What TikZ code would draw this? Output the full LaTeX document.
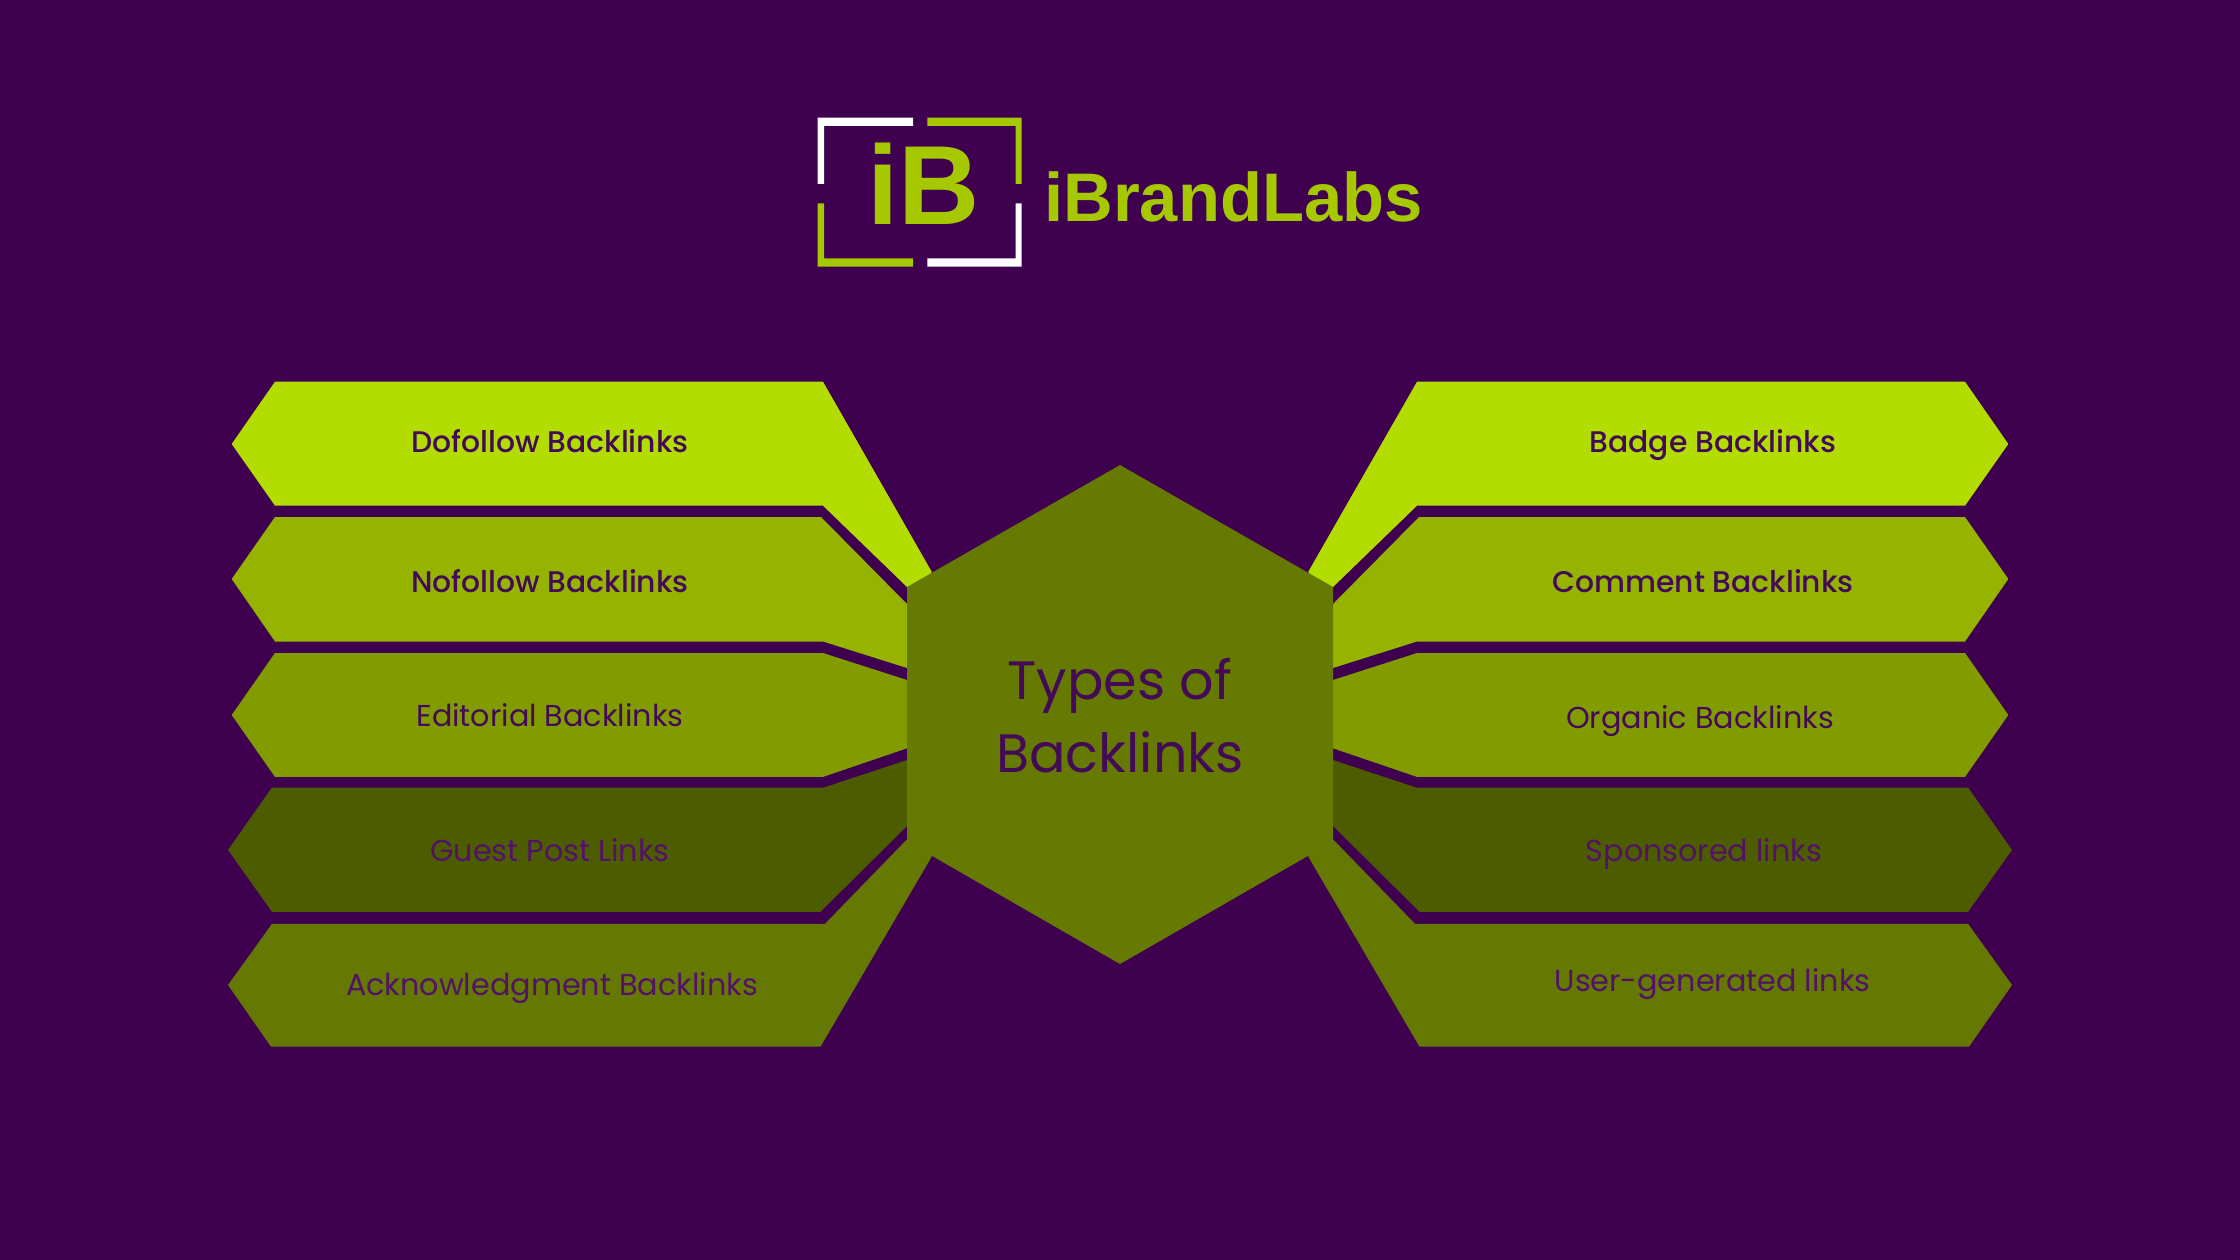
\documentclass[tikz,border=0pt]{standalone}
\usepackage{fontspec}
\setmainfont{Poppins}
\newfontfamily\popmed{Poppins Medium}
\newfontfamily\logofont{Liberation Sans}[BoldFont={Liberation Sans Bold}]
\definecolor{bgp}{HTML}{3F004F}
\definecolor{logog}{HTML}{A6C800}
\definecolor{bandA}{HTML}{B3DC00}
\definecolor{bandB}{HTML}{96B300}
\definecolor{bandC}{HTML}{829C00}
\definecolor{bandD}{HTML}{4E5C00}
\definecolor{bandE}{HTML}{647802}
\definecolor{hexfill}{HTML}{667A02}
\definecolor{txtA}{HTML}{430A57}
\definecolor{txtB}{HTML}{521266}
\tikzset{
  x=0.025cm,y=-0.025cm,
  lab/.style={inner sep=0pt,outer sep=0pt,anchor=base,text=txtA,font=\popmed\fontsize{21.2pt}{24pt}\selectfont},
  labr/.style={inner sep=0pt,outer sep=0pt,anchor=base,text=txtA,font=\fontsize{21.5pt}{24pt}\selectfont},
  labb/.style={labr,text=txtB},
  hub/.style={inner sep=0pt,outer sep=0pt,anchor=base,text=txtA,font=\fontsize{38.4pt}{42pt}\selectfont},
}
\begin{document}
\begin{tikzpicture}
\useasboundingbox (0,0) rectangle (2240,1260);
\fill[bgp] (0,0) rectangle (2240,1260);
% logo frame
\fill[white] (817.7,117.7) -- (913,117.7) -- (913,126) -- (824,126) -- (824,184) -- (817.7,184) -- cycle;
\fill[logog] (927.3,117.7) -- (1021.7,117.7) -- (1021.7,184) -- (1015.7,184) -- (1015.7,126) -- (927.3,126) -- cycle;
\fill[logog] (817.7,203.3) -- (824,203.3) -- (824,258.3) -- (913,258.3) -- (913,266.7) -- (817.7,266.7) -- cycle;
\fill[white] (927.3,266.7) -- (1021.7,266.7) -- (1021.7,203.3) -- (1015.7,203.3) -- (1015.7,258.3) -- (927.3,258.3) -- cycle;
\node[inner sep=0pt,anchor=base west,text=logog,font=\logofont\bfseries\fontsize{80pt}{80pt}\selectfont] (mark) at (867,225) {iB};
\node[inner sep=0pt,anchor=base west,text=logog,font=\logofont\bfseries\fontsize{48.9pt}{50pt}\selectfont] (brand) at (1044,222) {iBrandLabs};
% left bands
\fill[bandA] (275,381.7) -- (823,381.7) -- (931.7,571.7) -- (925,595) -- (907,587) -- (823,505.7) -- (275,505.7) -- (231.7,444) -- cycle;
\fill[bandB] (275,517) -- (821,517) -- (907,604) -- (912,604) -- (912,668) -- (907,668) -- (823,641.5) -- (275,641.5) -- (231.7,579) -- cycle;
\fill[bandC] (275,653) -- (823,653) -- (907,680) -- (912,680) -- (912,748.3) -- (907,748.3) -- (823,776.9) -- (275,776.9) -- (231.7,715) -- cycle;
\fill[bandD] (272,787.5) -- (824,787.5) -- (907,760) -- (912,760) -- (912,826) -- (907,826) -- (820.5,911.8) -- (272,911.8) -- (228,850) -- cycle;
\fill[bandE] (272,923.8) -- (825,923.8) -- (907,839.3) -- (925,830) -- (931.7,856.7) -- (820.5,1046.7) -- (271,1046.7) -- (228,985) -- cycle;
% right bands
\fill[bandA] (1965,381.7) -- (1417,381.7) -- (1308.3,571.7) -- (1315,595) -- (1333,587) -- (1417,505.7) -- (1965,505.7) -- (2008.3,444) -- cycle;
\fill[bandB] (1965,517) -- (1419,517) -- (1333,604) -- (1328,604) -- (1328,668) -- (1333,668) -- (1417,641.5) -- (1965,641.5) -- (2008.3,579) -- cycle;
\fill[bandC] (1965,653) -- (1417,653) -- (1333,680) -- (1328,680) -- (1328,748.3) -- (1333,748.3) -- (1417,776.9) -- (1965,776.9) -- (2008.3,715) -- cycle;
\fill[bandD] (1968,787.5) -- (1416,787.5) -- (1333,760) -- (1328,760) -- (1328,826) -- (1333,826) -- (1419.5,911.8) -- (1968,911.8) -- (2012,850) -- cycle;
\fill[bandE] (1968,923.8) -- (1415,923.8) -- (1333,839.3) -- (1315,830) -- (1308.3,856.7) -- (1419.5,1046.7) -- (1969,1046.7) -- (2012,985) -- cycle;
% hexagon
\fill[hexfill] (1120,465) -- (1333,587) -- (1333,841.5) -- (1120,964) -- (907,841.5) -- (907,587) -- cycle;
% band labels
\node[lab] (l1) at (550,452) {Dofollow Backlinks};
\node[lab] (l2) at (550,592.5) {Nofollow Backlinks};
\node[labr] (l3) at (550,726) {Editorial Backlinks};
\node[labb] (l4) at (550,861) {Guest Post Links};
\node[labb] (l5) at (552,995) {Acknowledgment Backlinks};
\node[lab] (r1) at (1713,452) {Badge Backlinks};
\node[lab] (r2) at (1703,592.5) {Comment Backlinks};
\node[labr] (r3) at (1700,728) {Organic Backlinks};
\node[labb] (r4) at (1704,861) {Sponsored links};
\node[labb] (r5) at (1712.5,991) {User-generated links};
\node[hub] (h1) at (1120,699) {Types of};
\node[hub] (h2) at (1120,772.7) {Backlinks};
\end{tikzpicture}
\end{document}
